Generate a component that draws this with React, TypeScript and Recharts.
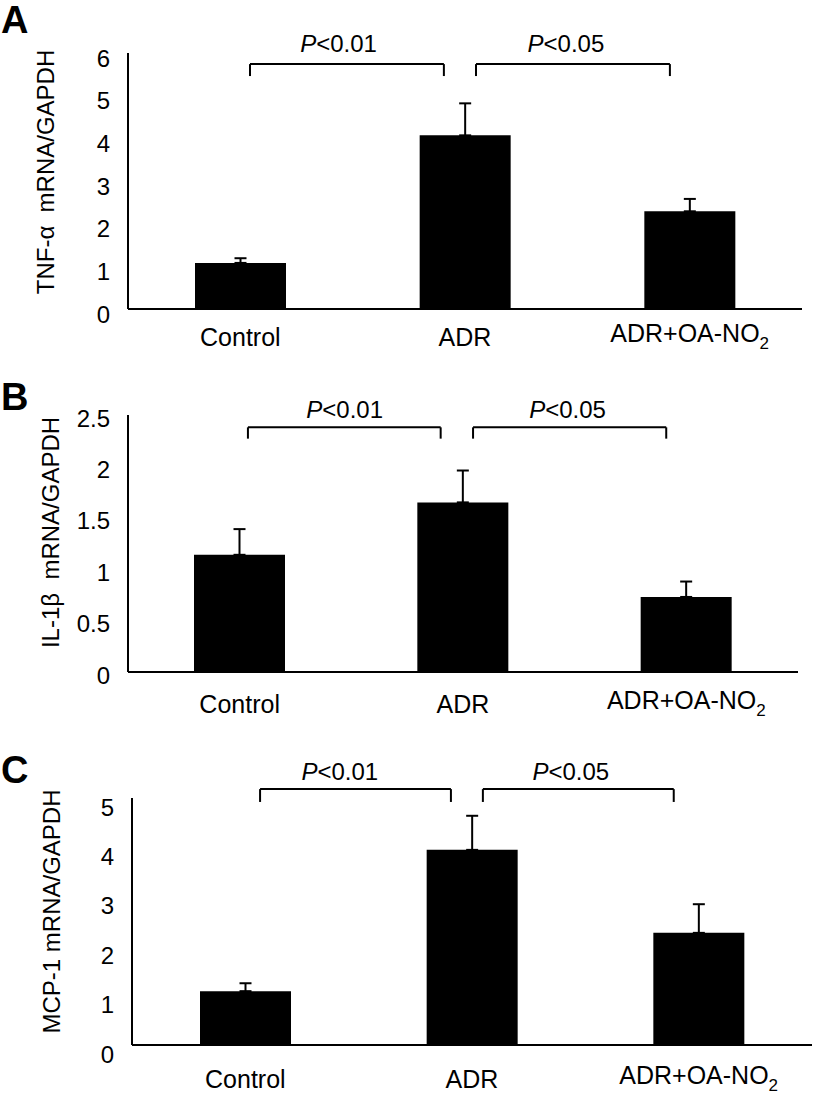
import React from "react";
import {
  BarChart,
  Bar,
  XAxis,
  YAxis,
  ErrorBar,
  ReferenceLine,
  ReferenceDot,
} from "recharts";

const groups = ["Control", "ADR", "ADR+OA-NO2"];

// panel A - TNF-alpha
const tnfMean = [1.08, 4.07, 2.29];
const tnfErr = [0.11, 0.75, 0.29];
const tnfTicks = [0, 1, 2, 3, 4, 5, 6];

// panel B - IL-1beta
const il1Mean = [1.14, 1.65, 0.73];
const il1Err = [0.25, 0.31, 0.15];
const il1Ticks = [0, 0.5, 1, 1.5, 2, 2.5];

// panel C - MCP-1
const mcpMean = [1.09, 3.95, 2.27];
const mcpErr = [0.16, 0.69, 0.58];
const mcpTicks = [0, 1, 2, 3, 4, 5];

// significance brackets, x in category units (0..3), y in data units
const pTexts = ["<0.01", "<0.05"];
const tnfBrackets = [[0.543, 1.406], [1.549, 2.412]];
const tnfBracketY = [5.74, 5.46];
const tnfTextX = [0.937, 1.949];
const tnfTextY = 6.02;

const il1Brackets = [[0.537, 1.4], [1.545, 2.41]];
const il1BracketY = [2.38, 2.27];
const il1TextX = [0.97, 1.968];
const il1TextY = 2.47;

const mcpBrackets = [[0.565, 1.407], [1.548, 2.39]];
const mcpBracketY = [5.18, 4.92];
const mcpTextX = [0.917, 1.936];
const mcpTextY = 5.36;

const FONT = "'Liberation Sans', Arial, Helvetica, sans-serif";
const boundaryTicks = [1, 2, 3];
const LINE = { stroke: "#000", strokeWidth: 2 };

const XTick = ({ x, y, payload }: any) => {
  const v: string = payload.value;
  if (v.endsWith("NO2")) {
    return (
      <text x={x} y={y - 4} dy="0.71em" textAnchor="middle" fontSize={25} fill="#000" fontFamily={FONT}>
        {v.slice(0, -1)}
        <tspan dy={7} fontSize={17}>2</tspan>
      </text>
    );
  }
  return (
    <text x={x} y={y} dy="0.71em" textAnchor="middle" fontSize={25} fill="#000" fontFamily={FONT}>
      {v}
    </text>
  );
};

const makeYTick = (shift: number) => ({ x, y, payload }: any) => (
  <text x={x} y={y + shift} dy="0.355em" textAnchor="end" fontSize={24} fill="#000" fontFamily={FONT}>
    {payload.value}
  </text>
);

const PText = ({ viewBox, text }: any) => {
  const cx = viewBox.x + viewBox.width / 2;
  const cy = viewBox.y + viewBox.height / 2;
  return (
    <text x={cx} y={cy} textAnchor="middle" fontSize={24} fill="#000" fontFamily={FONT}>
      <tspan fontStyle="italic">P</tspan>
      {text}
    </text>
  );
};

interface PanelProps {
  letter: string;
  letterTop: number;
  top: number;
  height: number;
  margin: { top: number; right: number; left: number; bottom: number };
  yWidth: number;
  xHeight: number;
  xGap: number;
  yLabel: string;
  yLabelDx: number;
  yLabelDy: number;
  yTickShift: number;
  mean: number[];
  err: number[];
  ticks: number[];
  brackets: number[][];
  bracketY: number[];
  textX: number[];
  textY: number;
}

function Panel(p: PanelProps) {
  const data = groups.map((g, i) => ({
    name: g,
    slot: i + 0.5,
    value: p.mean[i],
    err: [0, p.err[i]],
  }));
  const yMax = p.ticks[p.ticks.length - 1];
  const [yTop, yFoot] = p.bracketY;
  return (
    <>
      <div
        style={{
          position: "absolute",
          left: 1,
          top: p.letterTop,
          fontFamily: FONT,
          fontWeight: "bold",
          fontSize: 38,
          lineHeight: 1,
        }}
      >
        {p.letter}
      </div>
      <div style={{ position: "absolute", left: 0, top: p.top }}>
        <BarChart width={815} height={p.height} data={data} margin={p.margin}>
          <XAxis
            xAxisId="num"
            dataKey="slot"
            type="number"
            domain={[0, 3]}
            allowDataOverflow
            ticks={boundaryTicks}
            mirror
            height={1}
            tick={false}
            tickSize={6}
            axisLine={LINE}
            tickLine={LINE}
          />
          <XAxis
            xAxisId="cat"
            dataKey="name"
            height={p.xHeight}
            interval={0}
            axisLine={false}
            tickLine={false}
            tickSize={0}
            tickMargin={p.xGap}
            tick={<XTick />}
          />
          <YAxis
            yAxisId="val"
            domain={[0, yMax]}
            ticks={p.ticks}
            width={p.yWidth}
            axisLine={false}
            tickLine={false}
            tickSize={0}
            tickMargin={18}
            tick={makeYTick(p.yTickShift)}
            label={{
              value: p.yLabel,
              angle: -90,
              position: "center",
              dx: p.yLabelDx,
              dy: p.yLabelDy,
              style: { fontSize: 24, fill: "#000", fontFamily: FONT },
            }}
          />
          <YAxis
            yAxisId="lines"
            domain={[0, yMax]}
            ticks={p.ticks}
            mirror
            width={1}
            tick={false}
            tickSize={7}
            axisLine={LINE}
            tickLine={LINE}
          />
          <Bar
            xAxisId="cat"
            yAxisId="val"
            dataKey="value"
            fill="#000"
            barSize={91}
            isAnimationActive={false}
          >
            <ErrorBar
              dataKey="err"
              direction="y"
              width={6}
              stroke="#000"
              strokeWidth={2}
              isAnimationActive={false}
            />
          </Bar>
          {p.brackets.map(([a, b], i) => (
            <React.Fragment key={i}>
              <ReferenceLine
                xAxisId="num"
                yAxisId="val"
                ifOverflow="visible"
                segment={[{ x: a, y: yTop }, { x: b, y: yTop }]}
                {...LINE}
              />
              <ReferenceLine
                xAxisId="num"
                yAxisId="val"
                ifOverflow="visible"
                segment={[{ x: a, y: yTop }, { x: a, y: yFoot }]}
                {...LINE}
              />
              <ReferenceLine
                xAxisId="num"
                yAxisId="val"
                ifOverflow="visible"
                segment={[{ x: b, y: yTop }, { x: b, y: yFoot }]}
                {...LINE}
              />
              <ReferenceDot
                xAxisId="num"
                yAxisId="val"
                ifOverflow="visible"
                x={p.textX[i]}
                y={p.textY}
                r={1}
                fill="none"
                stroke="none"
                label={<PText text={pTexts[i]} />}
              />
            </React.Fragment>
          ))}
        </BarChart>
      </div>
    </>
  );
}

export default function App() {
  return (
    <div
      style={{
        position: "absolute",
        left: 0,
        top: 0,
        width: 815,
        height: 1094,
        background: "#fff",
        fontFamily: FONT,
      }}
    >
      <Panel
        letter="A"
        letterTop={1}
        top={0}
        height={360}
        margin={{ top: 53, right: 13, left: 0, bottom: 1 }}
        yWidth={128}
        xHeight={50}
        xGap={19}
        yLabel={"TNF-\u03b1\u00a0 mRNA/GAPDH"}
        yLabelDx={-19}
        yLabelDy={-9}
        yTickShift={5}
        mean={tnfMean}
        err={tnfErr}
        ticks={tnfTicks}
        brackets={tnfBrackets}
        bracketY={tnfBracketY}
        textX={tnfTextX}
        textY={tnfTextY}
      />
      <Panel
        letter="B"
        letterTop={378}
        top={360}
        height={360}
        margin={{ top: 55, right: 17, left: 0, bottom: 2 }}
        yWidth={128}
        xHeight={46}
        xGap={23}
        yLabel={"IL-1\u03b2\u00a0 mRNA/GAPDH"}
        yLabelDx={-14}
        yLabelDy={-11}
        yTickShift={3}
        mean={il1Mean}
        err={il1Err}
        ticks={il1Ticks}
        brackets={il1Brackets}
        bracketY={il1BracketY}
        textX={il1TextX}
        textY={il1TextY}
      />
      <Panel
        letter="C"
        letterTop={751}
        top={740}
        height={354}
        margin={{ top: 58, right: 3, left: 0, bottom: 4 }}
        yWidth={132}
        xHeight={45}
        xGap={25}
        yLabel="MCP-1 mRNA/GAPDH"
        yLabelDx={-15}
        yLabelDy={-10}
        yTickShift={9}
        mean={mcpMean}
        err={mcpErr}
        ticks={mcpTicks}
        brackets={mcpBrackets}
        bracketY={mcpBracketY}
        textX={mcpTextX}
        textY={mcpTextY}
      />
    </div>
  );
}
